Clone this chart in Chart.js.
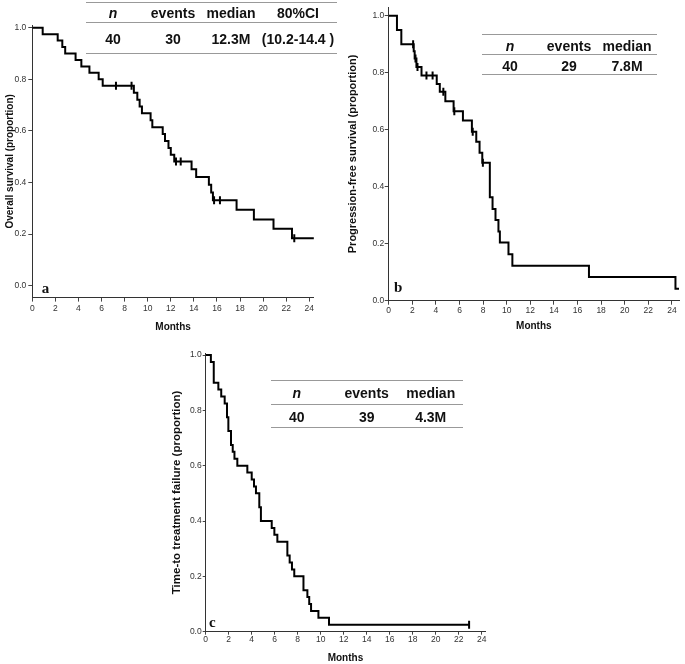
<!DOCTYPE html>
<html><head><meta charset="utf-8">
<script src="https://cdn.jsdelivr.net/npm/chart.js@4.4.0/dist/chart.umd.min.js"></script>
<style>
html,body{margin:0;padding:0;background:#fff;}
#wrap{position:relative;width:685px;height:664px;overflow:hidden;background:#fff;font-family:Arial,"Liberation Sans",sans-serif;}
canvas{position:absolute;}
.t{position:absolute;transform:translate(-50%,-50%);font-weight:bold;font-size:14px;color:#111;white-space:nowrap;line-height:1;font-family:Arial,"Liberation Sans",sans-serif;}
.hl{position:absolute;height:0;border-top:1.5px solid #999;}
</style></head><body><div id="wrap">
<canvas id="ca" width="330" height="340" style="left:0;top:0"></canvas>
<canvas id="cb" width="345" height="340" style="left:340px;top:0"></canvas>
<canvas id="cc" width="340" height="334" style="left:160px;top:330px"></canvas>
</div>
<script>
// ---------- data ----------
const xTicks = [0,2,4,6,8,10,12,14,16,18,20,22,24];
const yTicks = [0,0.2,0.4,0.6,0.8,1.0];
const xTitle = 'Months';

// (a) Overall survival
const osTimes = [0,0.9,2.2,2.6,2.85,3.75,4.25,4.95,5.75,6.1,8.8,9.1,9.3,9.5,10.25,10.4,11.3,11.5,11.8,12.0,12.3,13.8,14.2,15.3,15.5,15.65,17.7,19.2,20.9,22.5,24.4];
const osSurv  = [1.0,0.975,0.95,0.925,0.9,0.875,0.85,0.825,0.8,0.775,0.748,0.721,0.695,0.668,0.641,0.614,0.588,0.561,0.534,0.508,0.481,0.451,0.421,0.391,0.361,0.331,0.294,0.257,0.221,0.184,0.184];
const osCensT = [7.25,8.6,12.45,12.86,15.75,16.26,22.7];
const osCensS = [0.775,0.775,0.481,0.481,0.331,0.331,0.184];
const osHeaders = ['n','events','median','80%CI'];
const osValues  = ['40','30','12.3M','(10.2-14.4 )'];

// (b) Progression-free survival
const pfsTimes = [0,0.7,1.07,2.12,2.2,2.35,2.78,4.07,4.33,4.8,5.5,6.29,7.05,7.42,7.7,7.93,8.57,8.8,9.05,9.3,9.42,10.15,10.48,16.97,24.3,24.6];
const pfsSurv  = [1.0,0.95,0.90,0.875,0.85,0.82,0.79,0.76,0.733,0.70,0.665,0.632,0.593,0.558,0.519,0.484,0.363,0.322,0.283,0.243,0.204,0.163,0.123,0.083,0.042,0.042];
const pfsCensT = [2.07,2.27,2.44,3.2,3.72,4.63,5.56,7.12,7.98];
const pfsCensS = [0.90,0.85,0.82,0.79,0.79,0.733,0.665,0.593,0.484];
const pfsHeaders = ['n','events','median'];
const pfsValues  = ['40','29','7.8M'];

// (c) Time-to treatment failure
const ttfTimes = [0,0.45,0.7,1.1,1.35,1.65,1.85,1.97,2.2,2.35,2.5,2.75,3.62,4.0,4.2,4.37,4.66,4.8,5.74,5.97,6.23,7.1,7.3,7.5,7.7,8.5,8.84,9.0,9.16,9.8,10.72,22.9];
const ttfSurv  = [1.0,0.975,0.90,0.875,0.85,0.825,0.775,0.725,0.675,0.65,0.625,0.60,0.575,0.55,0.525,0.50,0.45,0.40,0.375,0.35,0.325,0.275,0.25,0.225,0.20,0.15,0.125,0.10,0.075,0.05,0.025,0.025];
const ttfCensT = [22.9];
const ttfCensS = [0.025];
const ttfHeaders = ['n','events','median'];
const ttfValues  = ['40','39','4.3M'];

// ---------- drawing ----------
const panelLabel = {
  id:'panelLabel',
  afterDraw(chart, args, opts){
    const {ctx, chartArea} = chart;
    ctx.save();
    ctx.font = 'bold 15px "Liberation Serif","Times New Roman",serif';
    ctx.fillStyle = '#111';
    ctx.textBaseline = 'alphabetic';
    ctx.textAlign = 'left';
    ctx.fillText(opts.text, chartArea.left + opts.dx, chartArea.bottom + opts.dy);
    ctx.restore();
  }
};

function kmChart(id, times, surv, censT, censS, yTitle, p){
  const steps = times.map((t,i)=>({x:t,y:surv[i]}));
  const cens = censT.map((t,i)=>({x:t,y:censS[i]}));
  const tickFont = {family:'Arial, "Liberation Sans", sans-serif', size:8.5};
  return new Chart(document.getElementById(id), {
    type:'line',
    data:{datasets:[
      {data:steps, stepped:true, borderColor:'#000', borderWidth:2, pointRadius:0, fill:false},
      {data:cens, showLine:false, pointStyle:'line', rotation:90, pointRadius:4,
       pointBorderColor:'#000', pointBorderWidth:2, borderColor:'#000', backgroundColor:'#000'}
    ]},
    options:{
      responsive:false, animation:false, devicePixelRatio:1, events:[],
      layout:{padding:{top:p.padTop, right:p.padRight, left:0, bottom:0}},
      plugins:{legend:{display:false}, tooltip:{enabled:false}, panelLabel:p.label},
      scales:{
        x:{type:'linear', min:0, max:p.xMax,
          afterFit:s=>{s.height=p.xH;},
          afterBuildTicks:ax=>{ax.ticks=xTicks.map(v=>({value:v}));},
          grid:{drawOnChartArea:false, drawTicks:true, tickLength:p.tick, color:'#444', lineWidth:1},
          border:{display:true, color:'#333', width:1},
          ticks:{font:tickFont, color:'#333', padding:p.xTickPad, maxRotation:0, autoSkip:false},
          title:{display:true, text:xTitle, font:{family:'Arial, "Liberation Sans", sans-serif', size:10, weight:'bold'}, color:'#111', padding:{top:0,bottom:p.xTitlePad}}
        },
        y:{type:'linear', min:p.yMin, max:p.yMax,
          afterFit:s=>{s.width=p.yW;},
          afterBuildTicks:ax=>{ax.ticks=yTicks.map(v=>({value:v}));},
          grid:{drawOnChartArea:false, drawTicks:true, tickLength:p.tick, color:'#444', lineWidth:1},
          border:{display:true, color:'#333', width:1},
          ticks:{font:tickFont, color:'#333', padding:p.yTickPad, callback:v=>Number(v).toFixed(1)},
          title:{display:true, text:yTitle, font:{family:'Arial, "Liberation Sans", sans-serif', size:p.yTitleSize, weight:'bold'}, color:'#111', padding:{top:p.yTitlePad,bottom:0}}
        }
      }
    },
    plugins:[panelLabel]
  });
}

kmChart('ca', osTimes, osSurv, osCensT, osCensS, 'Overall survival (proportion)',
  {padTop:25.1, padRight:16.1, xMax:24.4, yMin:-0.046, yMax:1.01, xH:42.4, yW:32.3, tick:4,
   xTickPad:2, yTickPad:2, xTitlePad:7, yTitlePad:4, yTitleSize:10, label:{text:'a',dx:9.4,dy:-5}});
kmChart('cb', pfsTimes, pfsSurv, pfsCensT, pfsCensS, 'Progression-free survival (proportion)',
  {padTop:7.1, padRight:4.5, xMax:24.6, yMin:0, yMax:1.03, xH:39.3, yW:48.7, tick:4,
   xTickPad:0.5, yTickPad:0.5, xTitlePad:8, yTitlePad:6.4, yTitleSize:11, label:{text:'b',dx:5.3,dy:-8.7}});
kmChart('cc', ttfTimes, ttfSurv, ttfCensT, ttfCensS, 'Time-to treatment failure (proportion)',
  {padTop:23.1, padRight:14.8, xMax:24.3, yMin:0, yMax:1.007, xH:32.3, yW:45.7, tick:3,
   xTickPad:0, yTickPad:1, xTitlePad:0, yTitlePad:9.8, yTitleSize:11.5, label:{text:'c',dx:3.3,dy:-5.2}});

// ---------- summary tables ----------
function buildTable(headers, values, lay){
  const wrap = document.getElementById('wrap');
  lay.lines.forEach(y=>{
    const d = document.createElement('div');
    d.className='hl';
    d.style.left = lay.x1+'px'; d.style.top = (y-0.75)+'px'; d.style.width=(lay.x2-lay.x1)+'px';
    wrap.appendChild(d);
  });
  const put = (txt, x, y, italic)=>{
    const d = document.createElement('div');
    d.className='t';
    d.textContent = txt;
    d.style.left = x+'px'; d.style.top = y+'px';
    if (italic) d.style.fontStyle='italic';
    wrap.appendChild(d);
  };
  headers.forEach((h,i)=>put(h, lay.cols[i], lay.headerY, h==='n'));
  values.forEach((v,i)=>put(v, lay.cols[i], lay.valueY, false));
}
buildTable(osHeaders, osValues, {x1:86, x2:337, lines:[2.7,22.3,53.3], headerY:12.5, valueY:39, cols:[113,173,231,298]});
buildTable(pfsHeaders, pfsValues, {x1:481.7, x2:656.7, lines:[34.3,55,75], headerY:45.7, valueY:65.7, cols:[510,569,627]});
buildTable(ttfHeaders, ttfValues, {x1:270.7, x2:463.3, lines:[381,404.3,427.7], headerY:393.3, valueY:416.7, cols:[296.7,366.7,430.7]});
</script>
</body></html>
